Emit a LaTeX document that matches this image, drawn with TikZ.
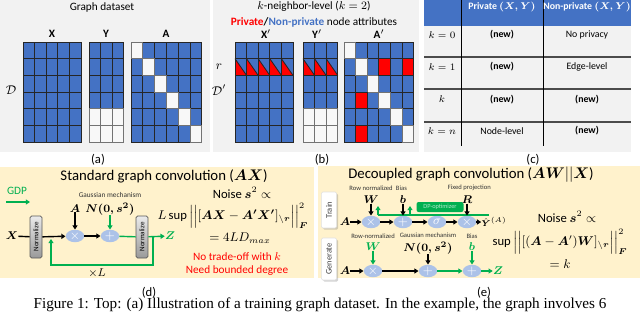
\documentclass[tikz,border=0pt]{standalone}
\usepackage{amsmath, amssymb}
\usepackage{fontspec}
\setmainfont{Carlito}
\newfontfamily\capfont{Liberation Serif}
\usepackage{xcolor}
\usepackage{tikz}
\usetikzlibrary{positioning, arrows.meta, shapes.geometric, calc, shadows}
\definecolor{cellblue}{RGB}{68, 114, 196}
\definecolor{panelgray}{RGB}{242, 242, 242}
\definecolor{panelbeige}{RGB}{255, 242, 204}
\definecolor{opblue}{RGB}{172, 194, 232}
\definecolor{gdpgreen}{RGB}{0, 176, 80}
\definecolor{privred}{RGB}{255, 0, 0}
\newcommand{\fsz}[1]{\fontsize{#1}{#1}\selectfont}
\tikzset{
  panel/.style={fill=panelgray},
  notepanel/.style={fill=panelbeige},
  cell/.style={draw=black!85, line width=0.6pt, fill=cellblue},
  blank/.style={draw=black!55, line width=0.6pt, fill=panelgray!50!white},
  matlbl/.style={font=\fsz{8}, inner sep=0pt},
  mathlbl/.style={font=\fsz{8.5}, inner sep=0pt},
  sublbl/.style={font=\fsz{9}, inner sep=0pt},
  paneltitle/.style={font=\fsz{8}, inner sep=0pt},
  titletext/.style={font=\fsz{10.5}, inner sep=0pt},
  formula/.style={font=\fsz{9}, inner sep=0pt},
  warn/.style={font=\fsz{8}, text=privred, inner sep=0pt},
  small/.style={font=\fsz{5.2}, inner sep=0pt, text=black!80},
  smaller/.style={small, font=\fsz{4.7}},
  tabtext/.style={font=\fsz{7}, inner sep=0pt},
  tabhead/.style={font=\fsz{7}\bfseries\boldmath, text=white, inner sep=0pt},
  tabbold/.style={font=\fsz{7}\bfseries, inner sep=0pt},
  tabline/.style={draw=black!70, line width=1pt},
  op/.style={ellipse, fill=opblue, minimum width=4.6mm, minimum height=3.1mm,
    inner sep=0pt, text=white, font=\fsz{9}},
  normbox/.style={draw=black!65, line width=0.5pt, rounded corners=1.2pt,
    top color=black!8, bottom color=black!40, rotate=90,
    minimum width=10.5mm, minimum height=3mm, inner sep=0pt, font=\fsz{5}},
  tabbox/.style={draw=black!12, fill=white, rounded corners=1pt, rotate=90,
    drop shadow={shadow xshift=0.4mm, shadow yshift=-0.4mm, opacity=0.35},
    minimum height=3.8mm, inner sep=0pt, font=\fsz{6}, text=black!75},
  dpbox/.style={fill=gdpgreen, rounded corners=1.5pt, minimum width=11.75mm,
    minimum height=2.5mm, inner sep=0pt, font=\fsz{4.5}, text=white!70!gdpgreen},
  flow/.style={draw=black, line width=1pt, -{Triangle[length=3pt, width=3.6pt]}},
  gflow/.style={flow, draw=gdpgreen},
  gline/.style={draw=gdpgreen, line width=1pt},
}

\begin{document}
\begin{tikzpicture}[x=0.25mm, y=-0.25mm]
\useasboundingbox (0,0) rectangle (640,312);

% (a) graph dataset
\fill[panel] (0,0) rectangle (210,152);
\node[paneltitle] (atitle) at (102,7) {Graph dataset};
\node[matlbl] (xlab) at (52,34) {$\mathbf{X}$};
\node[matlbl] (ylab) at (106,34) {$\mathbf{Y}$};
\node[matlbl] (alab) at (166,34) {$\mathbf{A}$};
\node[sublbl] (dlab) at (11,90) {$\mathcal{D}$};
\foreach \i in {0,...,4} \foreach \j in {0,...,5}
  \draw[cell] ({23+\i*11.6},{42+\j*16.7}) rectangle ++(11.6,16.7);
\foreach \i in {0,...,2} \foreach \j in {0,...,5}
  \draw[cell] ({89+\i*11.6},{42+\j*16.7}) rectangle ++(11.6,16.7);
\foreach \i in {0,...,2} \foreach \j in {4,5}
  \draw[blank] ({89+\i*11.6},{42+\j*16.7}) rectangle ++(11.6,16.7);
\foreach \i in {0,...,5} \foreach \j in {0,...,5}
  \draw[cell] ({131+\i*11.8},{42+\j*16.7}) rectangle ++(11.8,16.7);
\foreach \k in {0,...,5}
  \draw[blank] ({131+\k*11.8},{42+\k*16.7}) rectangle ++(11.8,16.7);
\node[sublbl] (acap) at (98,160) {(a)};

% (b) k-neighbor-level dataset
\fill[panel] (213,0) rectangle (419,152);
\node[paneltitle] (btitle) at (314,6) {$k$-neighbor-level ($k=2$)};
\node[paneltitle, below=1.4mm of btitle] (bsub)
  {\textbf{\color{privred}Private}\textbf{/}\textbf{\color{cellblue}Non-private} node attributes};
\node[matlbl] (xplab) at (266,34) {$\mathbf{X}'$};
\node[matlbl] (yplab) at (317,34) {$\mathbf{Y}'$};
\node[matlbl] (aplab) at (379,34) {$\mathbf{A}'$};
\node[sublbl] (rlab) at (219,67) {$r$};
\node[sublbl] (dplab) at (219,90) {$\mathcal{D}'$};
\foreach \i in {0,...,4} \foreach \j in {0,...,5}
  \draw[cell] ({235+\i*11.6},{42+\j*16.7}) rectangle ++(11.6,16.7);
\foreach \i in {0,...,2} \foreach \j in {0,...,5}
  \draw[cell] ({303+\i*11.6},{42+\j*16.7}) rectangle ++(11.6,16.7);
\foreach \i in {0,...,2} \foreach \j in {4,5}
  \draw[blank] ({303+\i*11.6},{42+\j*16.7}) rectangle ++(11.6,16.7);
\foreach \x in {235,246.6,258.2,269.8,281.4,303,314.6,326.2} {
  \fill[privred] (\x,58.7) -- (\x,75.4) -- ({\x+11.6},75.4) -- cycle;
  \draw[cell, fill=none] (\x,58.7) rectangle ++(11.6,16.7);
  \draw[black!85, line width=0.6pt] (\x,58.7) -- ++(11.6,16.7);
}
\foreach \i in {0,...,5} \foreach \j in {0,...,5}
  \draw[cell] ({344+\i*11.6},{42+\j*16.7}) rectangle ++(11.6,16.7);
\foreach \k in {0,...,5}
  \draw[blank] ({344+\k*11.6},{42+\k*16.7}) rectangle ++(11.6,16.7);
\foreach \i/\j in {3/1, 5/1, 1/3, 1/5}
  \draw[cell, fill=privred] ({344+\i*11.6},{42+\j*16.7}) rectangle ++(11.6,16.7);
\node[sublbl] (bcap) at (322,160) {(b)};

% (c) privacy table
\fill[panel] (424,0) rectangle (631,152);
\fill[cellblue] (424,0) rectangle (631,26);
\foreach \y in {57,89,122}
  \draw[tabline] (424,\y) -- (631,\y);
\draw[black, line width=0.6pt] (461,0) -- (461,146);
\draw[black, line width=0.6pt] (543,0) -- (543,146);
\node[tabhead] (hpriv) at (502,7) {Private $(X,Y)$};
\node[tabhead] (hnon) at (587,7) {Non-private $(X,Y)$};
\node[tabtext] (k0) at (442,35) {$k=0$};
\node[tabbold] (k0p) at (502,35) {(new)};
\node[tabtext] (k0n) at (587,35) {No privacy};
\node[tabtext] (k1) at (442,67) {$k=1$};
\node[tabbold] (k1p) at (502,67) {(new)};
\node[tabtext] (k1n) at (587,67) {Edge-level};
\node[tabtext] (kk) at (442,99) {$k$};
\node[tabbold] (kkp) at (502,100) {(new)};
\node[tabbold] (kkn) at (587,100) {(new)};
\node[tabtext] (kn) at (442,131) {$k=n$};
\node[tabtext] (knp) at (502,131) {Node-level};
\node[tabbold] (knn) at (587,131) {(new)};
\node[sublbl] (ccap) at (533,160) {(c)};

% (d) standard graph convolution
\fill[notepanel] (0,167) rectangle (314,278);
\node[titletext] (dtitle) at (164,176) {Standard graph convolution ($\boldsymbol{AX}$)};
\node[font=\fsz{8}, text=gdpgreen, inner sep=0pt] (gdp) at (17,191) {GDP};
\coordinate (gdpa) at (6,202);
\coordinate (gdpb) at (30,202);
\draw[gflow] (gdpa) -- (gdpb);
\node[mathlbl] (xin) at (12,236) {$\boldsymbol{X}$};
\node[normbox] (norm1) at (36,237) {Normalize};
\node[op] (mul1) at (75,236) {$\times$};
\node[mathlbl, above=4.3mm of mul1] (amat) {$\boldsymbol{A}$};
\node[op] (add1) at (110,236) {$+$};
\node[mathlbl, above=3.6mm of add1] (noise1) {$\boldsymbol{N(0,s^2)}$};
\node[small, above=1.2mm of noise1] (gm1) {Gaussian mechanism};
\node[normbox] (norm2) at (142,237) {Normalize};
\node[mathlbl, text=gdpgreen] (zout) at (170,236) {$\boldsymbol{Z}$};
\coordinate (loopa) at (153,236);
\coordinate (loopb) at (51,239);
\draw[line width=1pt] (xin) -- (norm1);
\draw[flow] (norm1) -- (mul1);
\draw[flow] (amat) -- (mul1);
\draw[flow] (mul1) -- (add1);
\draw[gflow] (noise1) -- (add1);
\draw[gline] (add1) -- (norm2);
\draw[gflow] (norm2) -- (zout);
\draw[gflow] (loopa) -- ++(0,29) -| (loopb);
\node[mathlbl] (times) at (97,273) {$\times L$};
\node[formula] (noise1r) at (242,193) {Noise $\boldsymbol{s}^2\propto$};
\node[formula] (sup1) at (233,216)
  {$L\sup\Big|\Big|[\boldsymbol{AX}-\boldsymbol{A'X'}]_{\backslash\boldsymbol{r}}\Big|\Big|_{\boldsymbol{F}}^2$};
\node[formula] (eq1) at (240,238) {$=4LD_{max}$};
\node[warn] (warn1) at (237,257) {No trade-off with $k$};
\node[warn] (warn2) at (237,271) {Need bounded degree};
\node[sublbl] (dcap) at (149,293) {(d)};

% (e) decoupled graph convolution
\fill[notepanel] (318,166) rectangle (640,278);
\node[titletext] (etitle) at (471,175) {Decoupled graph convolution ($\boldsymbol{AW}||\boldsymbol{X}$)};
\node[tabbox, minimum width=9mm] (train) at (329,210) {Train};
\node[tabbox, minimum width=10.5mm] (gen) at (329,259) {Generate};
% train row
\node[mathlbl] (ain1) at (345,222) {$\boldsymbol{A}$};
\node[op] (mulw) at (371,222) {$\times$};
\node[mathlbl, above=3mm of mulw] (wmat) {$\boldsymbol{W}$};
\node[smaller, above=1mm of wmat] (rown1) {Row normalized};
\node[op] (addb) at (403,222) {$+$};
\node[mathlbl, above=3mm of addb] (bvec) {$\boldsymbol{b}$};
\node[smaller, above=1mm of bvec, xshift=-0.4mm] (bias1) {Bias};
\node[op] (sig) at (437,222) {$\sigma$};
\node[op] (mulr) at (467,222) {$\times$};
\node[mathlbl, above=3mm of mulr] (rmat) {$\boldsymbol{R}$};
\node[smaller, above=1mm of rmat, xshift=0.6mm] (fixp) {Fixed projection};
\node[font=\fsz{6.5}, inner sep=0pt] (yhat) at (494,222) {$\hat{\boldsymbol{Y}}^{(A)}$};
\node[dpbox] (dpopt) at (440,207) {DP-optimizer};
\coordinate (gra) at (489,215);
\coordinate (grw) at (378,215);
\coordinate (grwt) at (378,206);
\coordinate (grb) at (410,215);
\coordinate (grbt) at (410,206);
\draw[gline] (gra) -- (grw);
\draw[gflow] (grw) -- (grwt);
\draw[gflow] (grb) -- (grbt);
\draw[flow] (ain1) -- (mulw);
\draw[flow] (wmat) -- (mulw);
\draw[flow] (mulw) -- (addb);
\draw[flow] (bvec) -- (addb);
\draw[flow] (addb) -- (sig);
\draw[flow] (sig) -- (mulr);
\draw[flow] (rmat) -- (mulr);
\draw[flow] (mulr) -- (yhat);
% generate row
\node[mathlbl] (ain2) at (345,271) {$\boldsymbol{A}$};
\node[op] (mulw2) at (373,271) {$\times$};
\node[mathlbl, text=gdpgreen, above=3.4mm of mulw2] (wmat2) {$\boldsymbol{W}$};
\node[smaller, above=1mm of wmat2] (rown2) {Row-normalized};
\node[op] (addn) at (428,271) {$+$};
\node[mathlbl, above=2.6mm of addn] (noise2) {$\boldsymbol{N(0,s^2)}$};
\node[smaller, above=1mm of noise2] (gm2) {Gaussian mechanism};
\node[op] (addb2) at (472,271) {$+$};
\node[mathlbl, text=gdpgreen, above=3.4mm of addb2] (bvec2) {$\boldsymbol{b}$};
\node[smaller, above=1mm of bvec2] (bias2) {Bias};
\node[mathlbl, text=gdpgreen] (zout2) at (498,271) {$\boldsymbol{Z}$};
\draw[flow] (ain2) -- (mulw2);
\draw[gflow] (wmat2) -- (mulw2);
\draw[flow] (mulw2) -- (addn);
\draw[flow] (noise2) -- (addn);
\draw[gflow] (addn) -- (addb2);
\draw[gflow] (bvec2) -- (addb2);
\draw[gflow] (addb2) -- (zout2);
\node[formula] (noise2r) at (567,217) {Noise $\boldsymbol{s}^2\propto$};
\node[formula] (sup2) at (560,242)
  {$\sup\Big|\Big|[(\boldsymbol{A}-\boldsymbol{A}')\boldsymbol{W}]_{\backslash\boldsymbol{r}}\Big|\Big|_{\boldsymbol{F}}^2$};
\node[formula] (eq2) at (560,264) {$=k$};
\node[sublbl] (ecap) at (484,293) {(e)};

% caption line
\node[font=\capfont\fsz{10.8}, inner sep=0pt, anchor=base] (caption) at (320,308)
  {Figure 1: Top: (a) Illustration of a training graph dataset. In the example, the graph involves 6};

\end{tikzpicture}
\end{document}
